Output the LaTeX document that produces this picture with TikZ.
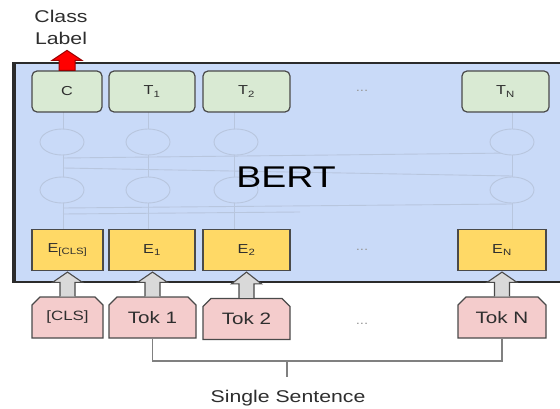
\documentclass[tikz,border=0pt]{standalone}
\usepackage{fontspec}
\setmainfont{Liberation Sans}[FakeStretch=1.25]
\usetikzlibrary{shapes.misc,calc}
\definecolor{bertbg}{HTML}{C9DAF8}
\definecolor{bertline}{HTML}{2B2B2B}
\definecolor{faintline}{HTML}{B8C6DE}
\definecolor{greenbox}{HTML}{D9EAD3}
\definecolor{yellowbox}{HTML}{FFD966}
\definecolor{pinkbox}{HTML}{F4CCCC}
\definecolor{boxline}{HTML}{4A4A4A}
\definecolor{textdark}{HTML}{2E2E2E}
\definecolor{arrowgray}{HTML}{D9D9D9}
\definecolor{arrowred}{HTML}{FF0000}
\definecolor{arrowredline}{HTML}{990000}
\definecolor{bracketgray}{HTML}{808080}
\begin{document}
\begin{tikzpicture}[x=1pt,y=-1pt,
  box/.style={draw=boxline, line width=1.2pt, inner sep=0pt, minimum height=41pt,
    text=textdark, font=\fontsize{13}{15}\selectfont},
  gbox/.style={box, fill=greenbox, rounded corners=5pt},
  ybox/.style={box, fill=yellowbox},
  pbox/.style={box, fill=pinkbox, chamfered rectangle,
    chamfered rectangle corners={north west,north east},
    chamfered rectangle xsep=4pt, chamfered rectangle ysep=4pt,
    font=\fontsize{16.5}{18}\selectfont},
  dots/.style={text=gray!80, font=\fontsize{12}{14}\selectfont},
  faint/.style={draw=faintline, line width=0.9pt},
  garrow/.style={draw=boxline, fill=arrowgray, line width=1.1pt, line join=miter},
  rarrow/.style={draw=arrowredline, fill=arrowred, line width=1pt},
  bracket/.style={draw=bracketgray, line width=1.5pt},
  label/.style={text=textdark, font=\fontsize{17}{22}\selectfont, align=center}
]
\useasboundingbox (0,0) rectangle (560,409);
\fill[white] (0,0) rectangle (560,409);

% BERT body
\fill[bertbg] (13,63) rectangle (562,282);
\draw[bertline, line width=2pt] (562,63) -- (13,63) -- (13,282) -- (562,282);
\draw[bertline, line width=3.5pt] (14,63) -- (14,282);

% faint internal network
\foreach \x in {63,148,234,512} \draw[faint] (\x,112) -- (\x,229);
\draw[faint] (63,158) -- (512,153);
\draw[faint] (63,168) -- (512,176);
\draw[faint] (63,208) -- (512,204);
\draw[faint] (63,214) -- (300,212);
\foreach \x in {62,148,236,512}
  \foreach \y in {142,190}
    \draw[faint, fill=bertbg] (\x,\y) ellipse [x radius=22, y radius=13];

\node[text=black, font=\fontsize{30}{32}\selectfont] (bertlabel) at (286,177) {BERT};

% output row
\node[gbox, minimum width=70pt] (c)  at (67,91.5)  {C};
\node[gbox, minimum width=86pt] (t1) at (152,91.5) {T\textsubscript{1}};
\node[gbox, minimum width=87pt] (t2) at (246.5,91.5) {T\textsubscript{2}};
\node[dots] (tdots) at (362,91) {...};
\node[gbox, minimum width=87pt] (tn) at (505.5,91.5) {T\textsubscript{N}};

% embedding row
\node[ybox, minimum width=71pt] (ecls) at (67.5,250) {E\textsubscript{[CLS]}};
\node[ybox, minimum width=86pt] (e1) at (152,250) {E\textsubscript{1}};
\node[ybox, minimum width=87pt] (e2) at (246.5,250) {E\textsubscript{2}};
\node[dots] (edots) at (362,250) {...};
\node[ybox, minimum width=88pt] (en) at (502,250) {E\textsubscript{N}};

% token row
\node[pbox, minimum width=71pt, font=\fontsize{13.5}{15}\selectfont] (cls) at (67.5,317.5) {[CLS]};
\node[pbox, minimum width=87pt] (tok1) at (152.5,317.5) {Tok 1};
\node[pbox, minimum width=87pt] (tok2) at (246.5,319) {Tok 2};
\node[dots] (tokdots) at (362,324) {...};
\node[pbox, minimum width=88pt] (tokn) at (502,317.5) {Tok N};

% gray block arrows token -> embedding
\foreach \a/\b in {cls/ecls, tok1/e1, tok2/e2, tokn/en}{
  \draw[garrow]
    ([xshift=-7.5pt]\a.north) -- ([xshift=-7.5pt,yshift=14pt]\a.north)
    -- ([xshift=-15pt,yshift=14pt]\a.north) -- ([yshift=-1pt]\a.north |- \b.south)
    -- ([xshift=15pt,yshift=14pt]\a.north) -- ([xshift=7.5pt,yshift=14pt]\a.north)
    -- ([xshift=7.5pt]\a.north);
}

% red class-label arrow
\draw[rarrow]
  ([xshift=-8pt]c.north) -- ([xshift=-8pt,yshift=10pt]c.north)
  -- ([xshift=-15pt,yshift=10pt]c.north) -- ([yshift=20pt]c.north)
  -- ([xshift=15pt,yshift=10pt]c.north) -- ([xshift=8pt,yshift=10pt]c.north)
  -- ([xshift=8pt]c.north) -- cycle;
\node[label] (classlabel) at (61,27) {Class\\Label};

% bracket
\coordinate (mid) at (287,361);
\draw[bracket] (tok1.south) -- (tok1.south |- mid) -| (tokn.south);
\draw[bracket] (mid) -- ++(0,16) coordinate (midb);
\node[label] (sentence) at (288,398) {Single Sentence};
\end{tikzpicture}
\end{document}
